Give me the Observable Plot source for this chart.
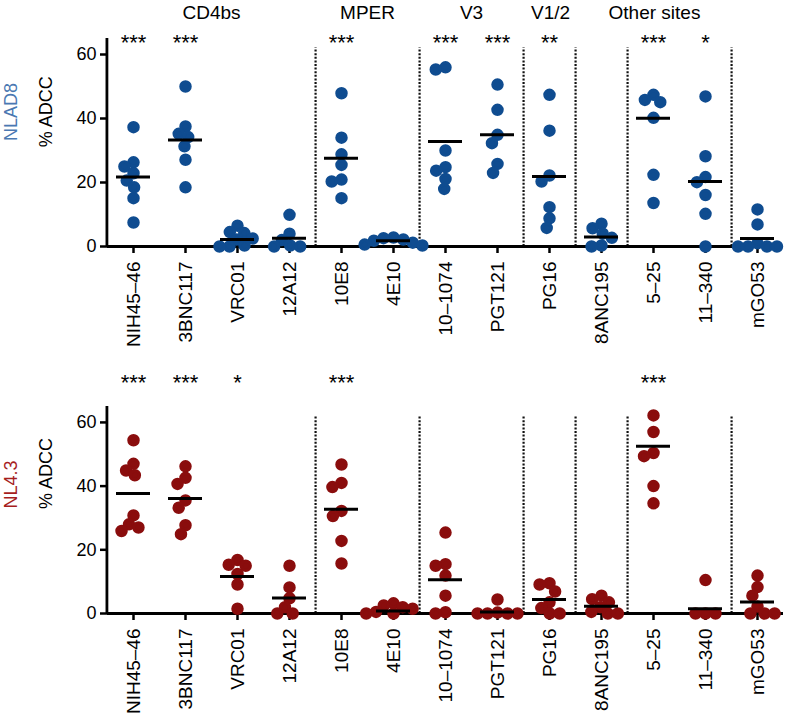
<!DOCTYPE html>
<html><head><meta charset="utf-8">
<script src="https://cdn.jsdelivr.net/npm/d3@7"></script>
<script src="https://cdn.jsdelivr.net/npm/@observablehq/plot@0.6"></script>
<style>
body{margin:0;background:#fff;font-family:"Liberation Sans",Arial,sans-serif;}
#chart svg{display:block;}
</style></head><body><div id="chart"></div>
<script>
const antibodies = ["NIH45–46","3BNC117","VRC01","12A12","10E8","4E10","10–1074","PGT121","PG16","8ANC195","5–25","11–340","mGO53"];
const groupLabelsBetween = ["CD4bs","MPER","V3"];
const groupAnchorsBetween = ["3BNC117","10E8","10–1074"];
const groupLabelsOn = ["V1/2","Other sites"];
const groupAnchorsOn = ["PG16","5–25"];
const separatorsAfter = ["12A12","4E10","PGT121","PG16","8ANC195","11–340"];
const yTicks = [0,20,40,60];

// NLAD8 (top panel)
const nlad8Values = [
  [37.3,26.3,25,22.9,20.6,18.5,15.1,7.5],
  [50,37.5,35.2,34.2,31.3,27.1,18.5],
  [6.5,4.5,4.2,2.5,2.2,0.3,0,0],
  [9.9,4,2,0.3,0,0],
  [47.9,34,28.8,25.5,20.9,20.3,15.1],
  [2.8,2.6,2.2,1.8,1.2,0.6,0.3],
  [56,55.3,30,24.8,23.7,21.1,18],
  [50.6,42.7,34.9,32.3,25.8,23],
  [47.4,36.2,22.2,20.3,12.3,8.8,5.8],
  [7.1,5.7,4,2.7,0.3,0],
  [47.4,45.8,45.1,40.2,22.4,13.6],
  [46.9,28.2,21.7,20.1,16.1,10.2,0],
  [11.6,6.9,1,0,0,0,0]
];
const nlad8Means = [21.7,33.3,2.2,2.6,27.6,1.8,32.8,34.9,21.9,3.0,40.1,20.3,2.5];
const nlad8Stars = ["***","***","","","***","","***","***","**","","***","*",""];

// NL4.3 (bottom panel)
const nl43Values = [
  [54.4,47,44.9,43.4,30.8,28,27,25.9],
  [46.2,42.6,40.7,35.5,33.2,27.7,24.9],
  [16.8,15.3,15,12.4,9.1,1.5],
  [15,8.2,4.8,2,0,0],
  [46.8,41,39.7,32.2,30.6,22.8,15.7],
  [3.2,2.5,2,1.5,0.5,0,0],
  [25.4,15.5,15,11.9,5.6,0.4,0],
  [4.4,0.3,0,0,0,0],
  [9.5,9.1,6.9,3.5,1.7,0,0],
  [5.6,4.5,3.5,2,0.5,0,0],
  [62.2,57,50.4,49.4,40,34.6],
  [10.5,0,0,0],
  [11.9,8.3,5.6,2.2,0,0,0]
];
const nl43Means = [37.7,36.1,11.6,4.9,32.7,0.8,10.6,0.5,4.4,2.3,52.5,1.5,3.6];
const nl43Stars = ["***","***","*","","***","","","","","","***","",""];

const W = 788, ML = 106, MR = 4;
const half = (W - ML - MR) / antibodies.length / 2;
const font = '"Liberation Sans", Arial, sans-serif';

function panel({values, means, stars, color, strain, strainColor, height, marginTop, marginBottom, starY, strainY, labelY, groups}) {
  const rows = antibodies.flatMap((ab, i) => values[i].map(v => ({ab, v})));
  const meanRows = antibodies.map((ab, i) => ({ab, m: means[i]}));
  const starRows = antibodies.map((ab, i) => ({ab, s: stars[i]})).filter(d => d.s);
  const sepRows = separatorsAfter.map(ab => ({ab}));
  const marks = [
    Plot.ruleX(sepRows, {fx: "ab", x: null, y1: 0, y2: 62, dx: half, stroke: "#111", strokeWidth: 2.2, strokeDasharray: "2,1.6"}),
    Plot.ruleY([0], {stroke: "#000", strokeWidth: 3}),
    Plot.ruleX([{ab: antibodies[0]}], {fx: "ab", x: null, y1: 0, y2: 65, dx: -half - 0.5, stroke: "#000", strokeWidth: 2.8}),
    Plot.axisY({ticks: yTicks, tickSize: 7, tickPadding: 4, strokeWidth: 2.5, fontSize: 18, label: null}),
    Plot.axisFx({anchor: "bottom", tickRotate: -90, tickSize: 7, tickPadding: 8, strokeWidth: 2.5, fontSize: 19, label: null}),
    Plot.dot(rows, Plot.dodgeX("middle", {fx: "ab", y: "v", r: 4.5, fill: color, stroke: color, strokeWidth: 3.5, padding: 1})),
    Plot.tickY(meanRows, {fx: "ab", y: "m", stroke: "#000", strokeWidth: 3, insetLeft: 9, insetRight: 9}),
    Plot.text(starRows, {fx: "ab", y: starY, text: "s", fontSize: 22, lineAnchor: "middle", dy: 4, fill: "#000"}),
    Plot.text([{ab: antibodies[0], t: strain}], {fx: "ab", y: strainY, text: "t", frameAnchor: "left", dx: -96, rotate: -90, fontSize: 18, fill: strainColor, lineAnchor: "middle"}),
    Plot.text([{ab: antibodies[0], t: "% ADCC"}], {fx: "ab", y: labelY, text: "t", frameAnchor: "left", dx: -61, rotate: -90, fontSize: 18, fill: "#000", lineAnchor: "middle"})
  ];
  if (groups) {
    marks.push(Plot.text(groupLabelsBetween.map((t, i) => ({ab: groupAnchorsBetween[i], t})), {fx: "ab", y: 73.1, text: "t", dx: half, fontSize: 19, lineAnchor: "middle", fill: "#000"}));
    marks.push(Plot.text(groupLabelsOn.map((t, i) => ({ab: groupAnchorsOn[i], t})), {fx: "ab", y: 73.1, text: "t", dx: 1, fontSize: 19, lineAnchor: "middle", fill: "#000"}));
  }
  return Plot.plot({
    width: W, height, marginLeft: ML, marginRight: MR, marginTop, marginBottom,
    style: {fontFamily: font, fontSize: "18px", color: "#000", background: "#fff", overflow: "visible"},
    fx: {domain: antibodies, padding: 0, label: null},
    y: {domain: [0, 65], label: null},
    marks
  });
}

const el = document.getElementById("chart");
el.append(panel({values: nlad8Values, means: nlad8Means, stars: nlad8Stars, color: "#0f4c90", strain: "NLAD8", strainColor: "#4a78b2",
  height: 360, marginTop: 38, marginBottom: 114, starY: 65, strainY: 33, labelY: 31, groups: true}));
el.append(panel({values: nl43Values, means: nl43Means, stars: nl43Stars, color: "#8a0d0d", strain: "NL4.3", strainColor: "#a61e1e",
  height: 358, marginTop: 46, marginBottom: 105, starY: 73.8, strainY: 33, labelY: 32.8, groups: false}));
</script>
</body></html>
